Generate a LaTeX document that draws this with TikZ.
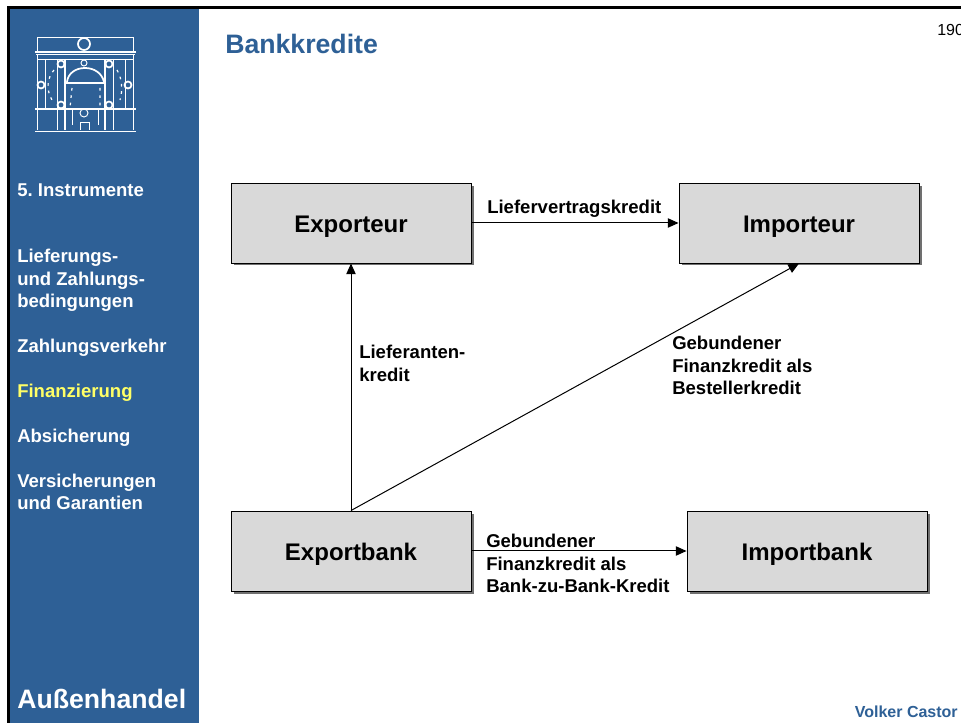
\documentclass[tikz,border=0pt]{standalone}
\usepackage{fontspec}
\setmainfont{Liberation Sans}
\usetikzlibrary{arrows.meta}
\definecolor{sidebar}{HTML}{2E6096}
\definecolor{boxfill}{HTML}{D9D9D9}
\definecolor{shadowc}{HTML}{707070}
\tikzset{
  x=0.75pt,y=-0.75pt,
  partybox/.style={draw=black,line width=0.7pt,fill=boxfill,minimum width=180pt,minimum height=60pt,inner sep=0pt,text height=15pt,text depth=1.3pt,font=\fontsize{18}{22}\selectfont\bfseries,text=black},
  boxshadow/.style={fill=shadowc,draw=none},
  flow/.style={draw=black,line width=0.75pt,-{Triangle[length=8pt,width=7pt]}},
  flowlabel/.style={anchor=north west,inner sep=0pt,align=left,font=\fontsize{13.9}{16.9}\selectfont\bfseries\frenchspacing,text=black},
  sidelabel/.style={anchor=north west,inner sep=0pt,align=left,font=\fontsize{13.9}{16.9}\selectfont\bfseries\frenchspacing,text=white},
  logoline/.style={draw=white,line width=0.7pt},
  logothick/.style={draw=white,line width=1.3pt},
  logodash/.style={draw=white,line width=0.9pt,dash pattern=on 2pt off 3.5pt}
}
\begin{document}
\begin{tikzpicture}
\useasboundingbox (0,0) rectangle (961,723);
\fill[white] (0,0) rectangle (961,723);
\fill[sidebar] (8,8) rectangle (199,723);
\fill[black] (7,6.5) rectangle (961,9);
\fill[black] (7,6.5) rectangle (9.5,723);

% logo
\draw[logoline] (37,52) -- (37,37) -- (133,37) -- (133,52);
\draw[logothick] (35,52) -- (136,52);
\draw[logoline] (36,54) -- (135,54);
\draw[logothick] (84,44) circle (6);
\draw[logoline] (37,54) -- (37,130) (45,59) -- (45,109) (125,59) -- (125,109) (133,54) -- (133,130);
\draw[logoline] (37,59) -- (133,59);
\draw[logothick] (65,59) -- (65,130) (105,59) -- (105,130) (65,83) -- (105,83);
\draw[logoline] (57,59) -- (57,109) (113,59) -- (113,109);
\draw[logothick] (67,82) .. controls (68,73) and (76,68) .. (85,68) .. controls (94,68) and (102,73) .. (104,82);
\draw[logothick] (61,64) circle (3.5) (109,64) circle (3.5) (41,85) circle (3.5) (128,85) circle (3.5) (61,105) circle (3.5) (109,105) circle (3.5);
\draw[logoline] (84,63) circle (3) (84,113) circle (4);
\draw[logodash] (54,70) .. controls (47,78) and (46,90) .. (52,100);
\draw[logodash] (117,70) .. controls (122,78) and (123,90) .. (120,100);
\draw[logodash] (72,88) -- (70,108) (100,88) -- (100,108);
\draw[logoline] (80,130) -- (80,122) -- (89,122) -- (89,130);
\draw[logoline] (57,110) -- (57,130) (72,110) -- (72,125) (98,110) -- (98,125) (113,110) -- (113,130);
\draw[logothick] (35,109) -- (136,109);
\draw[logothick] (35,131.5) -- (136,131.5);

% sidebar text
\node[sidelabel] (sec) at (17,183) {5. Instrumente};
\node[sidelabel] (lief) at (17,249) {Lieferungs-\\und Zahlungs-\\bedingungen};
\node[sidelabel] (zahl) at (17,339) {Zahlungsverkehr};
\node[sidelabel,text={rgb,255:red,255;green,255;blue,102}] (fin) at (17,384) {Finanzierung};
\node[sidelabel] (absi) at (17,428.5) {Absicherung};
\node[sidelabel] (vers) at (17,473.5) {Versicherungen\\und Garantien};
\node[anchor=base west,inner sep=0pt,text=white,font=\fontsize{20}{24}\selectfont\bfseries] (aussen) at (17,708) {Außenhandel};

% title etc.
\node[anchor=base west,inner sep=0pt,text=sidebar,font=\fontsize{20}{24}\selectfont\bfseries] (title) at (225,54) {Bankkredite};
\node[anchor=base west,inner sep=0pt,text=black,font=\fontsize{12}{14}\selectfont] (page) at (937,35.5) {190};
\node[anchor=base east,inner sep=0pt,text=sidebar,font=\fontsize{12}{14}\selectfont\bfseries] (author) at (958,717.5) {Volker Castor};

% shadows
\fill[boxshadow] (234,186) rectangle (473.5,265.5);
\fill[boxshadow] (682,186) rectangle (921.5,265.5);
\fill[boxshadow] (234,514) rectangle (473.5,593.5);
\fill[boxshadow] (690,514) rectangle (929.5,593.5);

% boxes
\node[partybox] (exporteur) at (351,223) {Exporteur};
\node[partybox] (importeur) at (799,223) {Importeur};
\node[partybox] (exportbank) at (351,551) {Exportbank};
\node[partybox] (importbank) at (807,551) {Importbank};

% connectors
\draw[flow] (exporteur.east) -- (importeur.west);
\draw[flow] (exportbank.north) -- (exporteur.south);
\draw[flow] (exportbank.north) -- (importeur.south);
\draw[flow] (exportbank.east) -- (importbank.west);

% connector labels
\node[flowlabel] (l1) at (487,200) {Liefervertragskredit};
\node[flowlabel] (l2) at (359,345) {Lieferanten-\\kredit};
\node[flowlabel] (l3) at (672,336) {Gebundener\\Finanzkredit als\\Bestellerkredit};
\node[flowlabel] (l4) at (486,534) {Gebundener\\Finanzkredit als\\Bank-zu-Bank-Kredit};
\end{tikzpicture}
\end{document}
